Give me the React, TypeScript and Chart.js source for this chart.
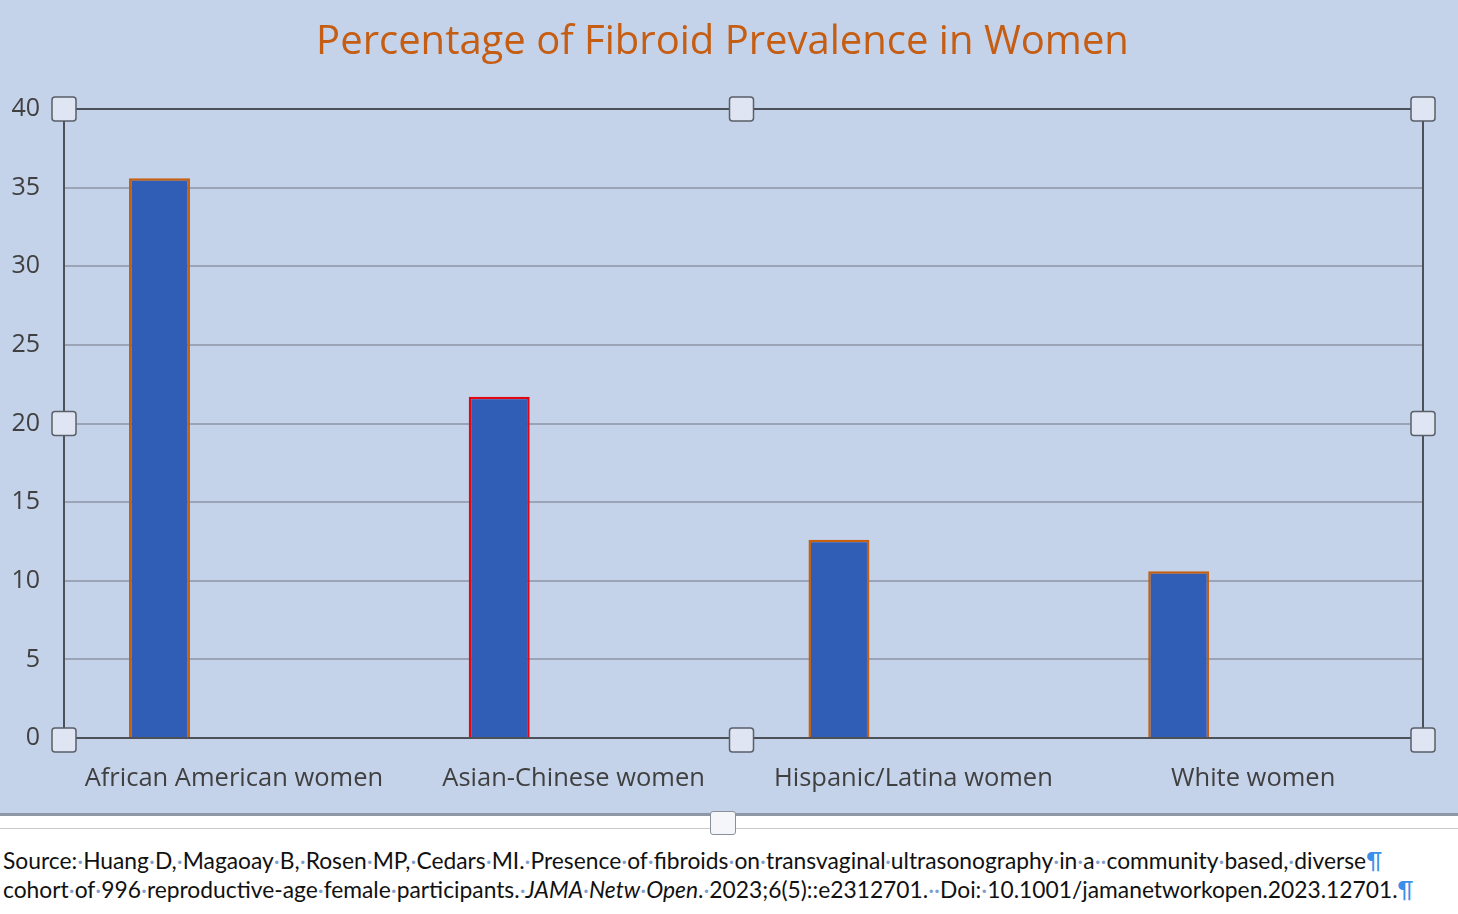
import React, { useEffect, useRef } from "react";
import { Chart, registerables } from "chart.js";

Chart.register(...registerables);

const categories = ["African American women", "Asian-Chinese women", "Hispanic/Latina women", "White women"];
const prevalence = [35.6, 21.7, 12.6, 10.6];
const emptySeries = [null, null, null, null];
const barBorders = ["#c4600f", "#e30613", "#c4600f", "#c4600f"];
const yTicks = [0, 5, 10, 15, 20, 25, 30, 35, 40];
const titleText = "Percentage of Fibroid Prevalence in Women";
const sourceLine1 = "Source: Huang D, Magaoay B, Rosen MP, Cedars MI. Presence of fibroids on transvaginal ultrasonography in a  community based, diverse";
const sourceLine2a = "cohort of 996 reproductive-age female participants. ";
const sourceLine2b = "JAMA Netw Open";
const sourceLine2c = ". 2023;6(5)::e2312701.  Doi: 10.1001/jamanetworkopen.2023.12701.";

const titlePlugin = {
  id: "centredTitle",
  afterDraw(chart: any) {
    const { ctx, width } = chart;
    ctx.save();
    ctx.font = "40px 'Open Sans'";
    ctx.fillStyle = "#c55d12";
    ctx.textAlign = "center";
    ctx.textBaseline = "middle";
    ctx.fillText(titleText, width / 2 - 6.5, 43);
    ctx.restore();
  },
};

const handlePlugin = {
  id: "handles",
  afterDraw(chart: any) {
    const { ctx, chartArea } = chart;
    const { left, right, top, bottom } = chartArea;
    ctx.save();
    ctx.strokeStyle = "#4b5059";
    ctx.lineWidth = 2;
    ctx.beginPath();
    ctx.moveTo(right, top);
    ctx.lineTo(right, bottom);
    ctx.moveTo(left, top);
    ctx.lineTo(right, top);
    ctx.stroke();
    const mx = (left + right) / 2 - 2;
    const my = (top + bottom) / 2;
    const pts = [
      [left, top], [mx, top], [right, top],
      [left, my], [right, my],
      [left, bottom + 2], [mx, bottom + 2], [right, bottom + 2],
    ];
    const s = 24;
    for (const [x, y] of pts) {
      ctx.beginPath();
      const r = 3;
      const x0 = x - s / 2, y0 = y - s / 2;
      ctx.moveTo(x0 + r, y0);
      ctx.arcTo(x0 + s, y0, x0 + s, y0 + s, r);
      ctx.arcTo(x0 + s, y0 + s, x0, y0 + s, r);
      ctx.arcTo(x0, y0 + s, x0, y0, r);
      ctx.arcTo(x0, y0, x0 + s, y0, r);
      ctx.closePath();
      ctx.fillStyle = "#dfe5f2";
      ctx.fill();
      ctx.lineWidth = 1.5;
      ctx.strokeStyle = "#5a5f68";
      ctx.stroke();
    }
    ctx.restore();
  },
};

function Dotted({ text, italic }: { text: string; italic?: boolean }) {
  const parts = text.split(" ");
  const out: any[] = [];
  parts.forEach((p, i) => {
    if (i > 0) out.push(<span key={"d" + i} style={{ color: "#7f9fd0" }}>·</span>);
    if (p) out.push(<span key={"w" + i} style={{ fontStyle: italic ? "italic" : "normal" }}>{p}</span>);
  });
  return <>{out}</>;
}

export default function App() {
  const ref = useRef<HTMLCanvasElement | null>(null);
  useEffect(() => {
    document.body.style.margin = "0";
    const chart = new Chart(ref.current as HTMLCanvasElement, {
      type: "bar",
      data: {
        labels: categories,
        datasets: [
          {
            data: prevalence,
            backgroundColor: "#305db6",
            borderColor: barBorders,
            borderWidth: 2.5,
            categoryPercentage: 0.876,
            barPercentage: 0.41,
          },
          {
            data: emptySeries as any,
            backgroundColor: "#305db6",
            categoryPercentage: 0.876,
            barPercentage: 0.41,
          },
        ],
      },
      plugins: [handlePlugin, titlePlugin],
      options: {
        animation: false,
        responsive: false,
        maintainAspectRatio: false,
        layout: { padding: { left: 0, right: 35, top: 109, bottom: 0 } },
        plugins: {
          legend: { display: false },
          tooltip: { enabled: false },
          title: { display: false },
        },
        scales: {
          x: {
            grid: { display: false, drawTicks: false },
            border: { display: true, color: "#4b5059", width: 2 },
            ticks: { color: "#404040", font: { family: "Open Sans", size: 25.5 }, padding: 25, maxRotation: 0 },
            afterFit(scale: any) { scale.height = 75; },
          },
          y: {
            min: 0,
            max: 40,
            afterBuildTicks(scale: any) { scale.ticks = yTicks.map((v) => ({ value: v })); },
            grid: { color: "#9ba4b6", lineWidth: 2, drawTicks: false },
            border: { display: true, color: "#4b5059", width: 2 },
            ticks: { color: "#404040", font: { family: "Open Sans", size: 25 }, padding: 24 },
            afterFit(scale: any) { scale.width = 64; },
          },
        },
      },
    });
    return () => chart.destroy();
  }, []);

  return (
    <div style={{ position: "relative", width: 1458, height: 914, background: "#ffffff", overflow: "hidden" }}>
      <div style={{ position: "absolute", left: 0, top: 0, width: 1458, height: 813, background: "#c5d3ea", borderBottom: "3px solid #8e97a6" }}>
        <canvas ref={ref} width={1458} height={813} style={{ display: "block", width: 1458, height: 813 }} />
      </div>
      <div style={{ position: "absolute", left: 0, top: 828, width: 1458, height: 1, background: "#c8c8c8" }} />
      <div style={{ position: "absolute", left: 710, top: 811, width: 24, height: 22, background: "#f4f6fa", border: "1.5px solid #8a8f98", borderRadius: 3 }} />
      <div style={{ position: "absolute", left: 3, top: 846, fontFamily: "Lato", fontSize: 22.8, lineHeight: "29px", color: "#111", whiteSpace: "nowrap" }}>
        <div><Dotted text={sourceLine1} /><span style={{ color: "#3b8fe8" }}>¶</span></div>
        <div>
          <Dotted text={sourceLine2a} />
          <Dotted text={sourceLine2b} italic />
          <Dotted text={sourceLine2c} />
          <span style={{ color: "#3b8fe8" }}>¶</span>
        </div>
      </div>
    </div>
  );
}
